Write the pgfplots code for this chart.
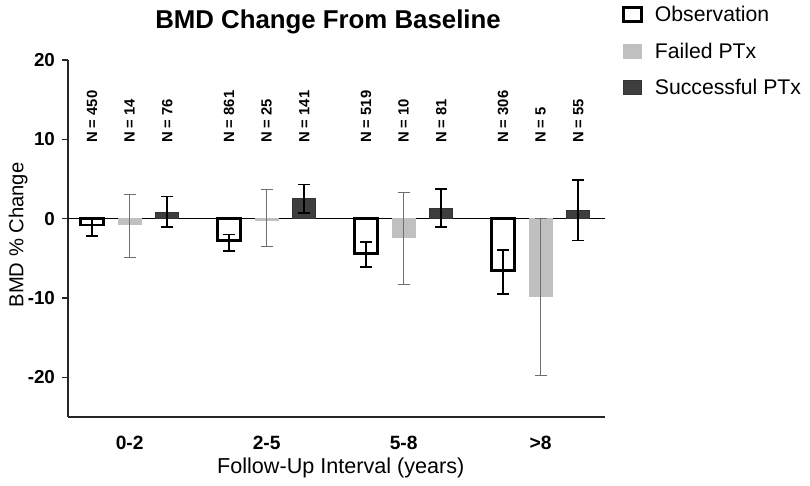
\documentclass[border=0pt]{standalone}
\usepackage{pgfplots}
\pgfplotsset{compat=1.18}
\usepackage{pgfplotstable}
\usepackage{fontspec}
\setmainfont{Liberation Sans}
\definecolor{failfill}{RGB}{192,192,192}
\definecolor{succfill}{RGB}{62,62,62}
\definecolor{failerr}{RGB}{110,110,110}

\pgfplotstableread{
x y ep em
-0.275 -0.8 0.9 1.4
0.725 -2.8 0.8 1.3
1.725 -4.4 1.5 1.7
2.725 -6.55 2.65 2.95
}\obs
\pgfplotstableread{
x y ep em
0 -0.7 3.7 4.2
1 -0.15 3.85 3.35
2 -2.4 5.65 5.9
3 -9.8 9.8 10.0
}\failed
\pgfplotstableread{
x y ep em
0.275 0.8 2.0 1.9
1.275 2.5 1.8 1.8
2.275 1.25 2.45 2.3
3.275 1.0 3.9 3.75
}\succ

\begin{document}
\begin{tikzpicture}
\useasboundingbox (0,0) rectangle (405pt,243pt);
\node[font=\bfseries\fontsize{12.9}{14}\selectfont] at (164pt,232pt) {BMD Change From Baseline};
\begin{axis}[
  at={(34pt,34.5pt)}, anchor=south west,
  scale only axis, width=268.5pt, height=178.5pt,
  xmin=-0.45, xmax=3.47, ymin=-25, ymax=20,
  axis x line*=bottom, axis y line*=left,
  axis line style={line width=0.8pt, black!85},
  xtick={0,1,2,3}, xticklabels={0-2,2-5,5-8,>8},
  x tick style={draw=none},
  xticklabel style={yshift=-3pt, font=\bfseries\fontsize{9.6}{11}\selectfont},
  ytick={-20,-10,0,10,20},
  tick align=outside, major tick length=3pt,
  y tick style={line width=0.8pt, black!85},
  yticklabel style={font=\bfseries\fontsize{9.4}{11}\selectfont},
  /pgf/number format/assume math mode=true,
  xlabel={Follow-Up Interval (years)},
  ylabel={BMD \% Change},
  xlabel style={font=\fontsize{10.8}{12}\selectfont, at={(axis description cs:0.508,-0.143)}, anchor=center},
  ylabel style={font=\fontsize{10.1}{11}\selectfont, at={(axis description cs:-0.093,0.51)}, anchor=center},
  ybar, bar width=11.5pt, bar shift=0pt,
  legend style={at={(axis description cs:1.02,1.175)}, anchor=north west, draw=none, fill=none,
    font=\fontsize{10.6}{12}\selectfont, row sep=5.2pt, column sep=4pt, legend cell align=left},
  legend image code/.code={\draw[#1] (0pt,-3pt) rectangle (9pt,4pt);},
  clip=false,
]
\addplot[forget plot, black, line width=0.6pt, sharp plot] coordinates {(-0.45,0) (3.47,0)};
\addplot[draw=black, fill=white, line width=1.4pt,
  error bars/.cd, y dir=both, y explicit,
  error bar style={line width=0.9pt, black},
  error mark options={rotate=90, mark size=3pt, line width=0.9pt, black}]
  table[x=x, y=y, y error plus=ep, y error minus=em] {\obs};
\addlegendentry{Observation}
\addplot[draw=failfill, fill=failfill, line width=0.3pt,
  error bars/.cd, y dir=both, y explicit,
  error bar style={line width=0.5pt, failerr},
  error mark options={rotate=90, mark size=3pt, line width=0.5pt, failerr}]
  table[x=x, y=y, y error plus=ep, y error minus=em] {\failed};
\addlegendentry{Failed PTx}
\addplot[draw=black!80, fill=succfill, line width=0.5pt,
  error bars/.cd, y dir=both, y explicit,
  error bar style={line width=0.9pt, black},
  error mark options={rotate=90, mark size=3pt, line width=0.9pt, black}]
  table[x=x, y=y, y error plus=ep, y error minus=em] {\succ};
\addlegendentry{Successful PTx}
\tikzset{nlab/.style={rotate=90, anchor=west, inner sep=0pt, font=\bfseries\fontsize{7.4}{8}\selectfont}}
\node[nlab] at (axis cs:-0.275,9.5) {N = 450};
\node[nlab] at (axis cs:0,9.5) {N = 14};
\node[nlab] at (axis cs:0.275,9.5) {N = 76};
\node[nlab] at (axis cs:0.725,9.5) {N = 861};
\node[nlab] at (axis cs:1,9.5) {N = 25};
\node[nlab] at (axis cs:1.275,9.5) {N = 141};
\node[nlab] at (axis cs:1.725,9.5) {N = 519};
\node[nlab] at (axis cs:2,9.5) {N = 10};
\node[nlab] at (axis cs:2.275,9.5) {N = 81};
\node[nlab] at (axis cs:2.725,9.5) {N = 306};
\node[nlab] at (axis cs:3,9.5) {N = 5};
\node[nlab] at (axis cs:3.275,9.5) {N = 55};
\end{axis}
\end{tikzpicture}
\end{document}
